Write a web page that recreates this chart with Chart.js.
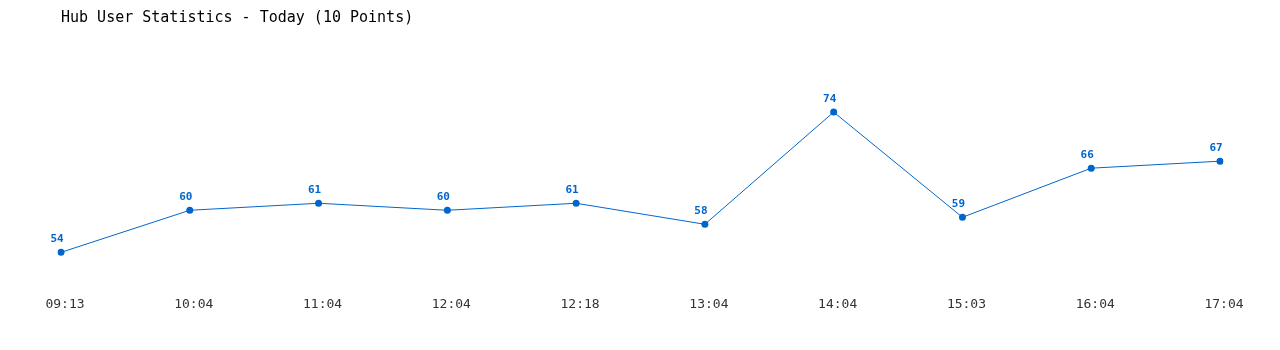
<!DOCTYPE html>
<html>
<head>
<meta charset="utf-8">
<script src="https://cdn.jsdelivr.net/npm/chart.js@4"></script>
<style>
html,body{margin:0;padding:0;background:#fff;}
#wrap{width:1280px;height:350px;position:relative;}
</style>
</head>
<body>
<div id="wrap"><canvas id="c" width="1280" height="350"></canvas></div>
<script>
const categories = ["09:13","10:04","11:04","12:04","12:18","13:04","14:04","15:03","16:04","17:04"];
const userCounts = [54,60,61,60,61,58,74,59,66,67];
const chartTitle = "Hub User Statistics - Today (10 Points)";
const seriesColor = "#0066cc";
const monoFont = "'DejaVu Sans Mono', 'Liberation Mono', monospace";

const valueLabels = {
  id: 'valueLabels',
  afterDatasetsDraw(chart) {
    const ctx = chart.ctx;
    const meta = chart.getDatasetMeta(0);
    ctx.save();
    ctx.font = "bold 11px " + monoFont;
    ctx.fillStyle = seriesColor;
    ctx.textAlign = 'center';
    ctx.textBaseline = 'middle';
    meta.data.forEach((pt, i) => {
      ctx.fillText(String(userCounts[i]), pt.x - 4, pt.y - 13);
    });
    ctx.restore();
  }
};

new Chart(document.getElementById('c'), {
  type: 'line',
  data: {
    labels: categories,
    datasets: [{
      data: userCounts,
      borderColor: seriesColor,
      backgroundColor: seriesColor,
      borderWidth: 1,
      pointRadius: 3.5,
      pointHoverRadius: 3.5,
      pointBorderWidth: 0,
      tension: 0,
      fill: false
    }]
  },
  options: {
    responsive: false,
    animation: false,
    events: [],
    layout: { padding: { left: 61, right: 60, top: 0, bottom: 22 } },
    plugins: {
      legend: { display: false },
      tooltip: { enabled: false },
      title: {
        display: true,
        text: chartTitle,
        align: 'start',
        color: '#000',
        font: { family: monoFont, size: 15, weight: 'normal', lineHeight: 1.2 },
        padding: { top: 9, bottom: 43 }
      }
    },
    scales: {
      x: {
        grid: { display: false, drawTicks: false },
        border: { display: false },
        ticks: {
          color: '#333',
          font: { family: monoFont, size: 13 },
          padding: 16,
          labelOffset: 4,
          maxRotation: 0,
          autoSkip: false
        }
      },
      y: {
        display: false,
        min: 50,
        max: 80
      }
    }
  },
  plugins: [valueLabels]
});
</script>
</body>
</html>
